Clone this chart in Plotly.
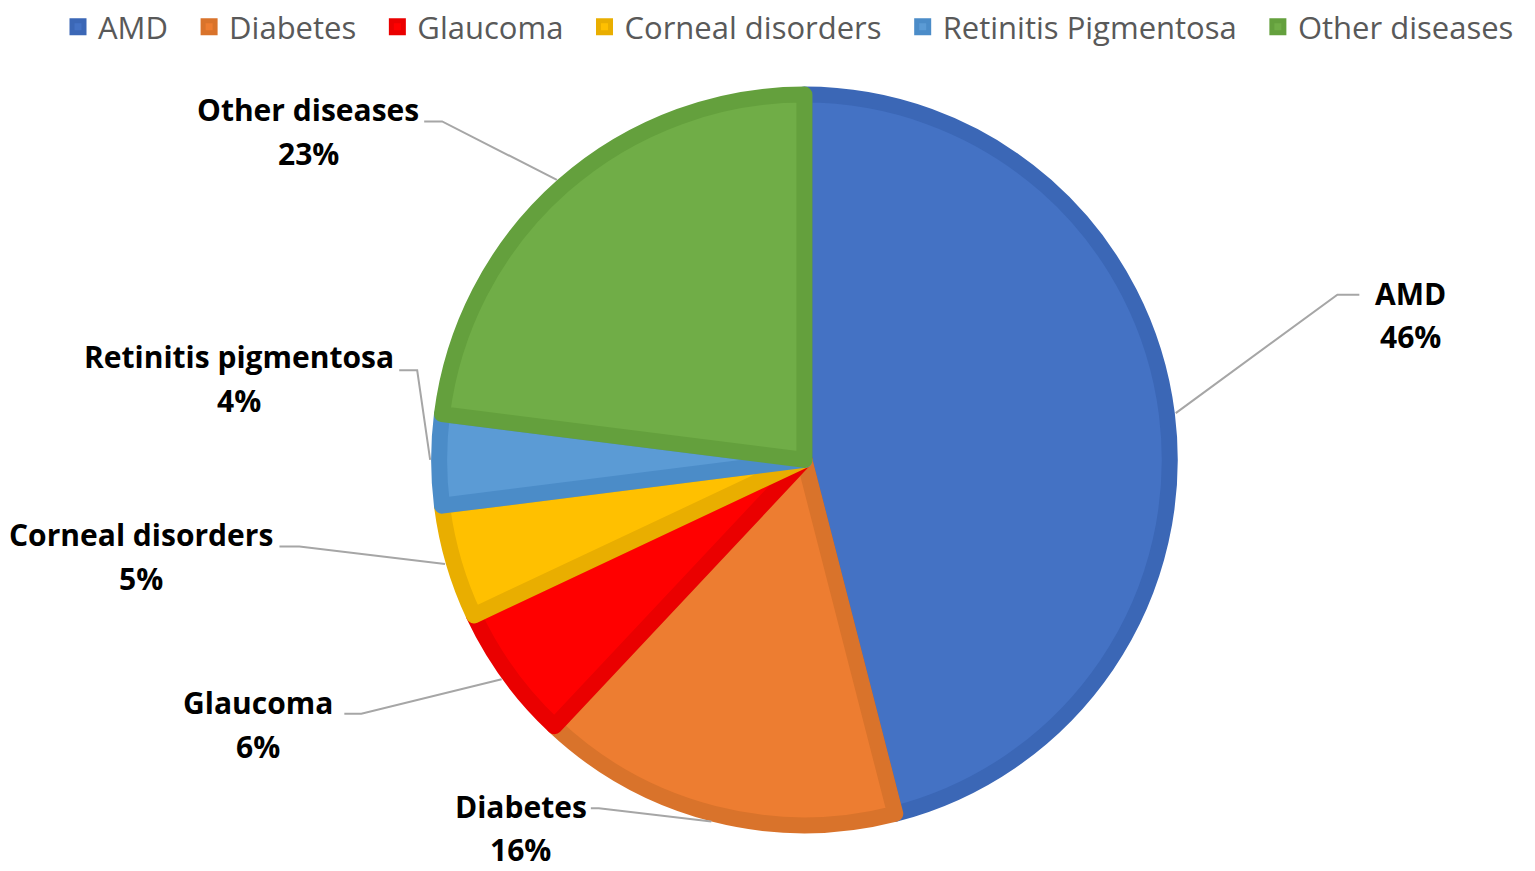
import numpy as np
import plotly.graph_objects as go

# данные
legend_names = ["AMD", "Diabetes", "Glaucoma", "Corneal disorders",
                "Retinitis Pigmentosa", "Other diseases"]
label_names = ["AMD", "Diabetes", "Glaucoma", "Corneal disorders",
               "Retinitis pigmentosa", "Other diseases"]
shares = [46, 16, 6, 5, 4, 23]

fill_colors = ["#4472C4", "#ED7D31", "#FF0000", "#FFC000", "#5B9BD5", "#70AD47"]
edge_colors = ["#3B67B6", "#D9732B", "#EA0000", "#E9AE00", "#4B8CC8", "#64A03D"]

W, H = 1535, 871
cx, cy, R = 806, 458, 375      # центр и радиус круга, пиксели
edge_w = 16

# подписи: (центр текста x, y строки названия, y строки процента, излом x, y, конец линии x)
label_pos = [
    (1413, 291, 334, 1340, 292, 1362),
    (522, 806, 849, 600, 808, 592),
    (259, 702, 746, 362, 713, 345),
    (141, 533, 577, 300, 545, 280),
    (239, 354, 398, 418, 368, 400),
    (309, 106, 150, 443, 118, 425),
]


def px(x):
    return x / W


def py(y):
    return 1 - y / H


fig = go.Figure()
fig.add_trace(go.Pie(
    # неразрывные пробелы — чтобы раздвинуть элементы легенды
    labels=[n + "\u00a0\u00a0" for n in legend_names],
    values=shares,
    sort=False,
    direction="clockwise",
    rotation=0,
    textinfo="none",
    hoverinfo="label+percent",
    marker=dict(colors=fill_colors, line=dict(color=edge_colors, width=edge_w)),
    domain=dict(x=[px(cx - R + edge_w / 2), px(cx + R - edge_w / 2)],
                y=[py(cy + R - edge_w / 2), py(cy - R + edge_w / 2)]),
))

# выноски
label_font = dict(family="Open Sans", size=30, color="#000000", weight="bold")
total = sum(shares)
start = 0.0
for name, v, pos in zip(label_names, shares, label_pos):
    mid = (start + v / 2) / total * 2 * np.pi
    start += v
    ax = cx + R * np.sin(mid)
    ay = cy - R * np.cos(mid)
    tx, ty1, ty2, ex, ey, endx = pos
    fig.add_shape(type="path",
                  path=f"M {px(ax)},{py(ay)} L {px(ex)},{py(ey)} L {px(endx)},{py(ey)}",
                  xref="paper", yref="paper",
                  line=dict(color="#A6A6A6", width=2))
    fig.add_annotation(x=px(tx), y=py(ty1), xref="paper", yref="paper",
                       text=name, showarrow=False,
                       xanchor="center", yanchor="middle", font=label_font)
    fig.add_annotation(x=px(tx), y=py(ty2), xref="paper", yref="paper",
                       text=f"{round(v / total * 100)}%", showarrow=False,
                       xanchor="center", yanchor="middle", font=label_font)

fig.update_layout(
    width=W, height=H,
    margin=dict(l=0, r=0, t=0, b=0),
    paper_bgcolor="white",
    plot_bgcolor="white",
    showlegend=True,
    legend=dict(orientation="h", x=0.522, xanchor="center", y=1.005, yanchor="top",
                font=dict(family="Open Sans", size=31, color="#595959"),
                itemwidth=30, tracegroupgap=0),
)

fig.write_html("out.html", config={"displayModeBar": False},
               post_script="document.body.style.margin='0';")
